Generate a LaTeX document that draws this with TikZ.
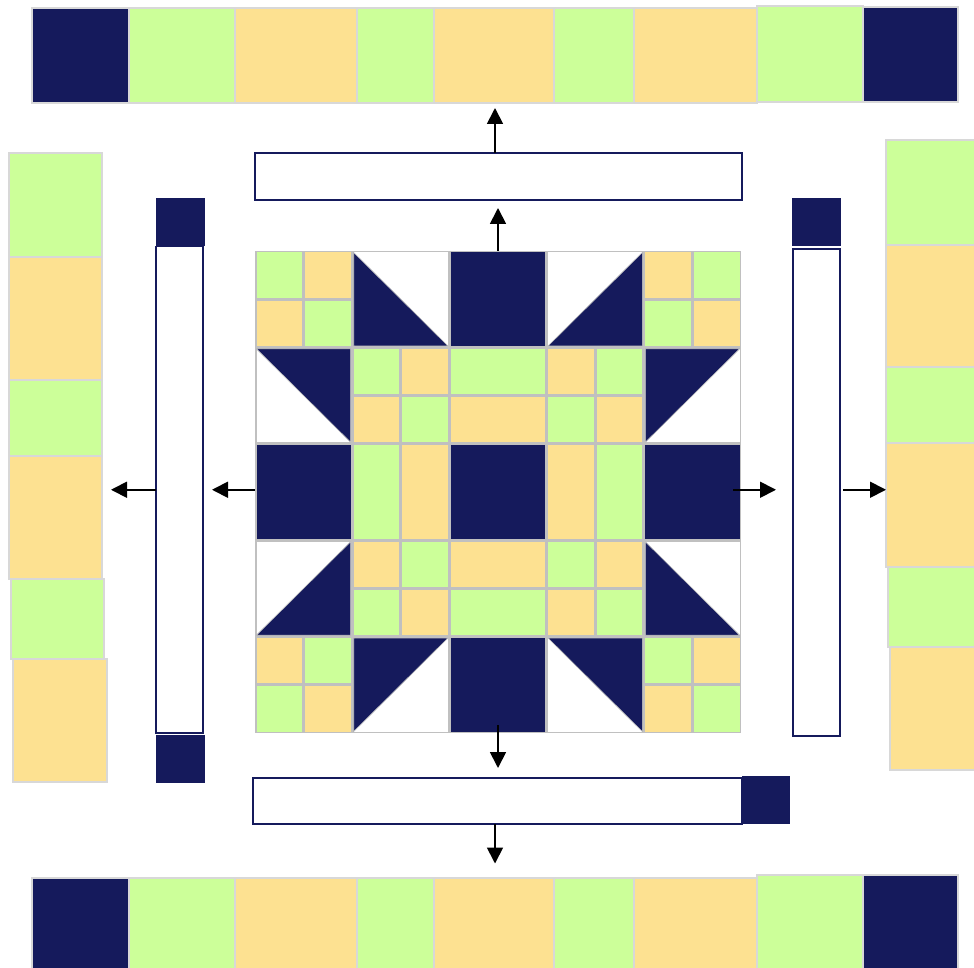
\documentclass[tikz,border=0pt]{standalone}
\usetikzlibrary{arrows.meta,fit}
\definecolor{navy}{RGB}{21,26,92}
\definecolor{lgreen}{RGB}{204,255,153}
\definecolor{lyellow}{RGB}{253,225,145}
\definecolor{gborder}{RGB}{192,192,192}
\definecolor{sborder}{RGB}{216,216,216}
\newcommand\pc[7]{\fill[#7] ({255+97.2*(#1+#3)+1.5},{251+96.4*(#2+#4)+1.5}) rectangle ({255+97.2*(#1+#5)-1.5},{251+96.4*(#2+#6)-1.5});}
\newcommand\fourp[6]{\pc{#1}{#2}{0}{0}{.5}{.5}{#3}\pc{#1}{#2}{.5}{0}{1}{.5}{#4}\pc{#1}{#2}{0}{.5}{.5}{1}{#5}\pc{#1}{#2}{.5}{.5}{1}{1}{#6}}
\newcommand\cxf[2]{255+97.2*(#1+#2)+1.5-3*#2}
\newcommand\cyf[2]{251+96.4*(#1+#2)+1.5-3*#2}
\newcommand\trisq[8]{\pc{#1}{#2}{0}{0}{1}{1}{white}\filldraw[fill=navy,draw=gborder,line width=0.6pt] ({\cxf{#1}{#3}},{\cyf{#2}{#4}}) -- ({\cxf{#1}{#5}},{\cyf{#2}{#6}}) -- ({\cxf{#1}{#7}},{\cyf{#2}{#8}}) -- cycle;}
\newcommand\stripseg[5]{\filldraw[seg, fill=#5] (#1,#2) rectangle (#3,#4);}
\begin{document}
\begin{tikzpicture}[x=1pt,y=-1pt,
  arr/.style={-{Triangle[length=16pt,width=16pt]}, line width=1.8pt, black},
  seg/.style={draw=sborder, line width=2pt},
  barbox/.style={draw=navy, fill=white, line width=1.8pt, inner sep=0pt, outer sep=0pt},
  area/.style={inner sep=0pt, outer sep=0pt}]
\clip (0,0) rectangle (974,968);
\fill[white] (0,0) rectangle (974,968);

% top strip
\stripseg{32}{8}{128.5}{103}{navy}
\stripseg{128.5}{8}{234.5}{103}{lgreen}
\stripseg{234.5}{8}{356.5}{103}{lyellow}
\stripseg{356.5}{8}{434}{103}{lgreen}
\stripseg{434}{8}{553.5}{103}{lyellow}
\stripseg{553.5}{8}{633.5}{103}{lgreen}
\stripseg{633.5}{8}{757}{103}{lyellow}
\stripseg{757}{6}{863}{102}{lgreen}
\stripseg{863}{7}{958}{102}{navy}
\node[area, fit={(32,8) (958,103)}] (topstrip) {};

% bottom strip
\stripseg{32}{877.5}{128.5}{985}{navy}
\stripseg{128.5}{877.5}{234.5}{985}{lgreen}
\stripseg{234.5}{877.5}{356.5}{985}{lyellow}
\stripseg{356.5}{877.5}{434}{985}{lgreen}
\stripseg{434}{877.5}{553.5}{985}{lyellow}
\stripseg{553.5}{877.5}{633.5}{985}{lgreen}
\stripseg{633.5}{877.5}{757}{985}{lyellow}
\stripseg{757}{875}{863}{985}{lgreen}
\stripseg{863}{875}{958}{985}{navy}
\node[area, fit={(32,877.5) (958,968)}] (botstrip) {};

% left strip
\stripseg{9}{153}{102}{257.5}{lgreen}
\stripseg{9}{257.5}{102}{379.5}{lyellow}
\stripseg{9}{379.5}{102}{455.5}{lgreen}
\stripseg{9}{455.5}{102}{579}{lyellow}
\stripseg{11}{579}{104}{659}{lgreen}
\stripseg{13}{659}{107}{782}{lyellow}
\node[area, fit={(9,153) (102,782)}] (leftstrip) {};

% right strip
\stripseg{886}{140.5}{985}{245}{lgreen}
\stripseg{886}{245}{985}{366.5}{lyellow}
\stripseg{886}{366.5}{985}{442.5}{lgreen}
\stripseg{886}{442.5}{985}{566.5}{lyellow}
\stripseg{888}{566.5}{985}{647}{lgreen}
\stripseg{890}{647}{985}{770}{lyellow}
\node[area, fit={(886,140.5) (974,770)}] (rightstrip) {};

% bars
\node[barbox, fit={(255,153) (742,200)}] (topbar) {};
\node[barbox, fit={(156,246.5) (203,733)}] (leftbar) {};
\fill[navy] (156,198) rectangle (204.5,246);
\fill[navy] (156,735) rectangle (204.5,783);
\node[barbox, fit={(793,249) (840,736)}] (rightbar) {};
\fill[navy] (792,198) rectangle (840.5,246.5);
\node[barbox, fit={(253,778) (742,824)}] (botbar) {};
\fill[navy] (742,776) rectangle (790,824);

% center block
\node[area, fit={(255,251) (741,733)}, fill=gborder] (block) {};
% row 0
\fourp{0}{0}{lgreen}{lyellow}{lyellow}{lgreen}
\trisq{1}{0}{0}{0}{0}{1}{1}{1}
\pc{2}{0}{0}{0}{1}{1}{navy}
\trisq{3}{0}{1}{0}{1}{1}{0}{1}
\fourp{4}{0}{lyellow}{lgreen}{lgreen}{lyellow}
% row 1
\trisq{0}{1}{0}{0}{1}{0}{1}{1}
\fourp{1}{1}{lgreen}{lyellow}{lyellow}{lgreen}
\pc{2}{1}{0}{0}{1}{.5}{lgreen}
\pc{2}{1}{0}{.5}{1}{1}{lyellow}
\fourp{3}{1}{lyellow}{lgreen}{lgreen}{lyellow}
\trisq{4}{1}{0}{0}{1}{0}{0}{1}
% row 2
\pc{0}{2}{0}{0}{1}{1}{navy}
\pc{1}{2}{0}{0}{.5}{1}{lgreen}
\pc{1}{2}{.5}{0}{1}{1}{lyellow}
\pc{2}{2}{0}{0}{1}{1}{navy}
\pc{3}{2}{0}{0}{.5}{1}{lyellow}
\pc{3}{2}{.5}{0}{1}{1}{lgreen}
\pc{4}{2}{0}{0}{1}{1}{navy}
% row 3
\trisq{0}{3}{0}{1}{1}{1}{1}{0}
\fourp{1}{3}{lyellow}{lgreen}{lgreen}{lyellow}
\pc{2}{3}{0}{0}{1}{.5}{lyellow}
\pc{2}{3}{0}{.5}{1}{1}{lgreen}
\fourp{3}{3}{lgreen}{lyellow}{lyellow}{lgreen}
\trisq{4}{3}{0}{0}{0}{1}{1}{1}
% row 4
\fourp{0}{4}{lyellow}{lgreen}{lgreen}{lyellow}
\trisq{1}{4}{0}{0}{1}{0}{0}{1}
\pc{2}{4}{0}{0}{1}{1}{navy}
\trisq{3}{4}{0}{0}{1}{0}{1}{1}
\fourp{4}{4}{lgreen}{lyellow}{lyellow}{lgreen}

% arrows
\draw[arr, shorten >=8pt] (block.north) -- (block.north |- topbar.south);
\draw[arr, shorten >=5pt] (topbar.north -| topstrip.south) -- (topstrip.south);
\draw[arr, shorten >=9pt] (block.west |- leftbar.east) -- (leftbar.east);
\draw[arr, shorten >=9pt] (leftbar.west) -- (leftbar.west -| leftstrip.east);
\draw[arr, shorten <=-8pt, shorten >=17pt] (block.east |- leftbar.east) -- (rightbar.west |- leftbar.east);
\draw[arr, shorten <=3pt] (rightbar.east |- leftbar.east) -- (rightstrip.west |- leftbar.east);
\draw[arr, shorten <=-8pt, shorten >=10pt] (block.south) -- (block.south |- botbar.north);
\draw[arr, shorten >=14pt] (botbar.south -| botstrip.north) -- (botstrip.north);
\end{tikzpicture}
\end{document}
